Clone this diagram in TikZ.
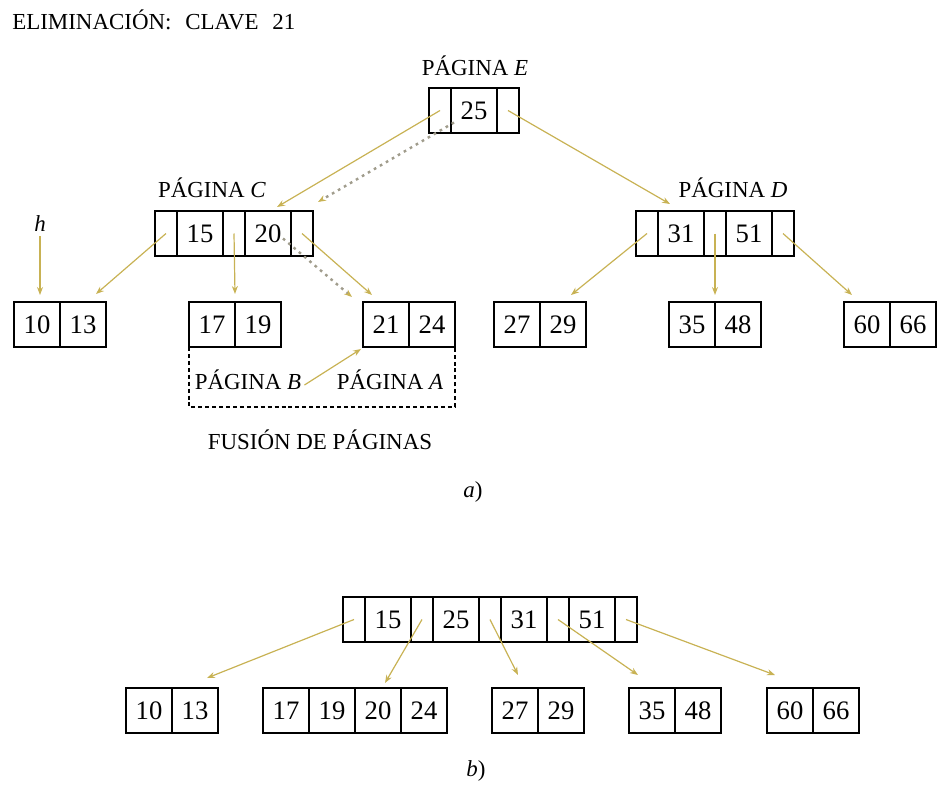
\documentclass[tikz,border=0pt]{standalone}
\usepackage{fontspec}
\setmainfont{Liberation Serif}
\usepackage{xcolor}
\usetikzlibrary{positioning,calc,arrows.meta}
\definecolor{ptrgold}{RGB}{200,178,84}
\definecolor{movegray}{RGB}{160,156,140}

\begin{document}
\begin{tikzpicture}[x=0.75pt,y=0.75pt,yscale=-1,xscale=1,
  keycell/.style={draw,line width=0.8pt,minimum width=34.5pt,minimum height=33.75pt,inner sep=0pt,outer sep=0pt,font=\fontsize{20}{22}\selectfont},
  ptrcell/.style={draw,line width=0.8pt,minimum width=16.5pt,minimum height=33.75pt,inner sep=0pt,outer sep=0pt},
  lbl/.style={inner sep=0pt,font=\fontsize{17.2}{20}\selectfont},
  link/.style={ptrgold,line width=0.9pt,-{Stealth[length=6pt,width=4.5pt]}},
  move/.style={movegray,line width=1.8pt,dash pattern=on 2pt off 3.2pt,-{Stealth[length=6pt,width=4.5pt,color=ptrgold]}},
  ]
\useasboundingbox (0,0) rectangle (939,785);

%Shape: Page E
\node[ptrcell,anchor=north west] (eP0) at (429,88) {};
\node[keycell,right=0pt of eP0] (eK1) {25};
\node[ptrcell,right=0pt of eK1] (eP2) {};
%Shape: Page C
\node[ptrcell,anchor=north west] (cP0) at (155,211) {};
\node[keycell,right=0pt of cP0] (cK1) {15};
\node[ptrcell,right=0pt of cK1] (cP1) {};
\node[keycell,right=0pt of cP1] (cK2) {20};
\node[ptrcell,right=0pt of cK2] (cP2) {};
%Shape: Page D
\node[ptrcell,anchor=north west] (dP0) at (636,211) {};
\node[keycell,right=0pt of dP0] (dK1) {31};
\node[ptrcell,right=0pt of dK1] (dP1) {};
\node[keycell,right=0pt of dP1] (dK2) {51};
\node[ptrcell,right=0pt of dK2] (dP2) {};
%Shape: leaves a)
\node[keycell,anchor=north west] (a10) at (14,302) {10};
\node[keycell,right=0pt of a10] (a13) {13};
\node[keycell,anchor=north west] (a17) at (189,302) {17};
\node[keycell,right=0pt of a17] (a19) {19};
\node[keycell,anchor=north west] (a21) at (363,302) {21};
\node[keycell,right=0pt of a21] (a24) {24};
\node[keycell,anchor=north west] (a27) at (494,302) {27};
\node[keycell,right=0pt of a27] (a29) {29};
\node[keycell,anchor=north west] (a35) at (669,302) {35};
\node[keycell,right=0pt of a35] (a48) {48};
\node[keycell,anchor=north west] (a60) at (844,302) {60};
\node[keycell,right=0pt of a60] (a66) {66};

%Straight Lines
\draw[link] (eP0.center) -- ($(cK2.north)+(9,-4)$);
\draw[move] ($(eK1.center)+(-20,12)$) -- ($(cP2.north east)+(5,-9)$);
\draw[link] (eP2.center) -- ($(dK1.north)+(-11,-7)$);
\draw[link] (cP0.center) -- ($(a13.north)+(13,-8)$);
\draw[link] (cP1.center) -- ($(a17.north east)+(0,-8)$);
\draw[link] (cP2.center) -- ($(a21.north west)+(9,-7)$);
\draw[move] ($(cK2.center)+(15,5)$) -- ($(a21.north west)+(-11,-5)$);
\draw[link] (dP0.center) -- ($(a29.north)+(8,-7)$);
\draw[link] (dP1.center) -- ($(a35.north east)+(0,-7)$);
\draw[link] (dP2.center) -- ($(a60.north west)+(8,-7)$);

% Text Node
\node[lbl,anchor=west] (title) at (12,20) {ELIMINACIÓN:\hspace{0.6em}CLAVE\hspace{0.6em}21};
% Text Node
\node[lbl] (labE) at (475,66) {PÁGINA \textit{E}};
% Text Node
\node[lbl] (labC) at (212,188) {PÁGINA \textit{C}};
% Text Node
\node[lbl] (labD) at (733,188) {PÁGINA \textit{D}};
% Text Node
\node[lbl] (h) at (40,224) {\textit{h}};
\draw[link] ($(h.south)+(0,4)$) -- ($(a10.north)+(3,-7)$);
% Text Node
\node[lbl] (labB) at (248,380) {PÁGINA \textit{B}};
% Text Node
\node[lbl] (labA) at (390,380) {PÁGINA \textit{A}};
\draw[link] ($(labB.east)+(3,5)$) -- ($(a21.south west)+(-2,2)$);
%Shape: merge frame
\draw[line width=1.5pt,dash pattern=on 3pt off 2.2pt] (a17.south west) -- ($(a17.south west)+(0,60)$) -| (a24.south east);
% Text Node
\node[lbl] (fusion) at (320,440) {FUSIÓN DE PÁGINAS};
% Text Node
\node[lbl] (capA) at (473,492) {\textit{a})};

%Shape: root b)
\node[ptrcell,anchor=north west] (rP0) at (343,597) {};
\node[keycell,right=0pt of rP0] (rK15) {15};
\node[ptrcell,right=0pt of rK15] (rP1) {};
\node[keycell,right=0pt of rP1] (rK25) {25};
\node[ptrcell,right=0pt of rK25] (rP2) {};
\node[keycell,right=0pt of rP2] (rK31) {31};
\node[ptrcell,right=0pt of rK31] (rP3) {};
\node[keycell,right=0pt of rP3] (rK51) {51};
\node[ptrcell,right=0pt of rK51] (rP4) {};
%Shape: leaves b)
\node[keycell,anchor=north west] (b10) at (126,688) {10};
\node[keycell,right=0pt of b10] (b13) {13};
\node[keycell,anchor=north west] (b17) at (263,688) {17};
\node[keycell,right=0pt of b17] (b19) {19};
\node[keycell,right=0pt of b19] (b20) {20};
\node[keycell,right=0pt of b20] (b24) {24};
\node[keycell,anchor=north west] (b27) at (492,688) {27};
\node[keycell,right=0pt of b27] (b29) {29};
\node[keycell,anchor=north west] (b35) at (629,688) {35};
\node[keycell,right=0pt of b35] (b48) {48};
\node[keycell,anchor=north west] (b60) at (767,688) {60};
\node[keycell,right=0pt of b60] (b66) {66};

%Straight Lines
\draw[link] (rP0.center) -- ($(b13.north)+(12,-10)$);
\draw[link] (rP1.center) -- ($(b20.north)+(7,-5)$);
\draw[link] (rP2.center) -- ($(b27.north)+(3,-13)$);
\draw[link] (rP3.center) -- ($(b35.north west)+(9,-13)$);
\draw[link] (rP4.center) -- ($(b60.north west)+(8,-13)$);

% Text Node
\node[lbl] (capB) at (476,771) {\textit{b})};

\end{tikzpicture}
\end{document}
